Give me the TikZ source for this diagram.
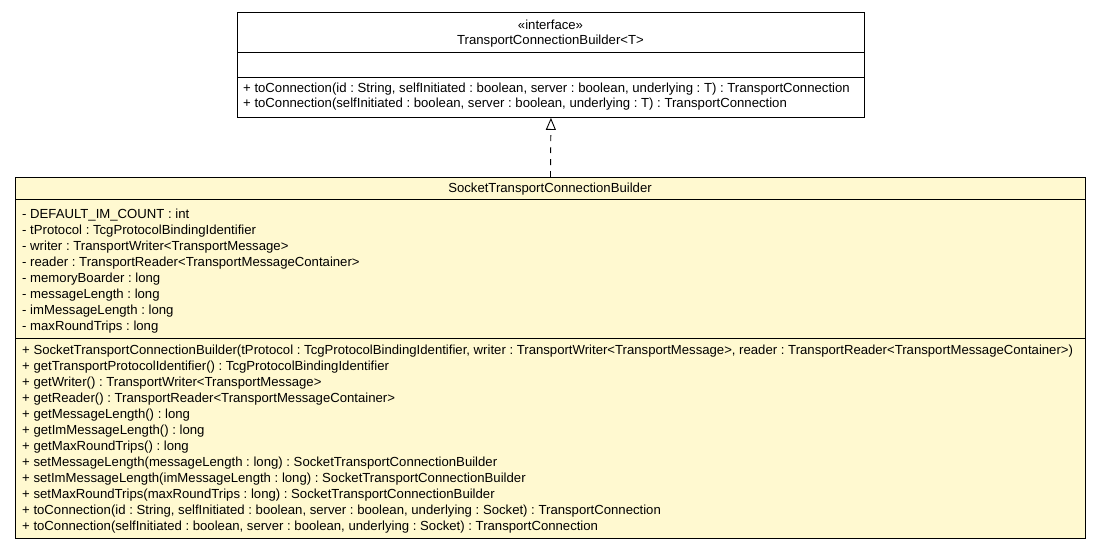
\documentclass[tikz,border=0pt]{standalone}
\usepackage{fontspec}
\setmainfont{Liberation Sans}
\usetikzlibrary{arrows.meta}
\definecolor{classfill}{HTML}{FFF9D0}
\frenchspacing
\begin{document}
\begin{tikzpicture}[x=1pt,y=-1pt,
  umlbox/.style={draw=black, line width=0.9pt, rectangle, inner sep=0pt, anchor=north west},
  sepline/.style={draw=black, line width=0.9pt},
  txt/.style={font=\fontsize{13.15}{16}\selectfont\frenchspacing, inner sep=0pt, anchor=base west},
  ctxt/.style={font=\fontsize{13.15}{16}\selectfont\frenchspacing, inner sep=0pt, anchor=base},
  realize/.style={draw=black, line width=0.9pt, dash pattern=on 6pt off 6pt, -{Triangle[open, length=12pt, width=10pt, line width=0.9pt]}}
]
\useasboundingbox (0,0) rectangle (1101,549);
% interface box
\node[umlbox, fill=white, minimum width=627pt, minimum height=105pt] (iface) at (237,12) {};
\draw[sepline] (237,52) -- (864,52);
\draw[sepline] (237,77) -- (864,77);
\node[ctxt] (st) at (550.5,29.5) {«interface»};
\node[ctxt] (it) at (550.5,44.5) {TransportConnectionBuilder<T>};
\node[txt] (im1) at (243,92.5) {+ toConnection(id : String, selfInitiated : boolean, server : boolean, underlying : T) : TransportConnection};
\node[txt] (im2) at (243,107.5) {+ toConnection(selfInitiated : boolean, server : boolean, underlying : T) : TransportConnection};
% implementation box
\node[umlbox, fill=classfill, minimum width=1070pt, minimum height=361pt] (impl) at (15,177) {};
\draw[sepline] (15,199) -- (1085,199);
\draw[sepline] (15,338) -- (1085,338);
\node[ctxt] (ct) at (550,192.5) {SocketTransportConnectionBuilder};
\foreach \t [count=\i from 0] in {%
  - DEFAULT\_IM\_COUNT : int,
  - tProtocol : TcgProtocolBindingIdentifier,
  - writer : TransportWriter<TransportMessage>,
  - reader : TransportReader<TransportMessageContainer>,
  - memoryBoarder : long,
  - messageLength : long,
  - imMessageLength : long,
  - maxRoundTrips : long}
  \node[txt] (a\i) at (22,218.5+16*\i) {\t};
\foreach \t [count=\i from 0] in {%
  {+ SocketTransportConnectionBuilder(tProtocol : TcgProtocolBindingIdentifier, writer : TransportWriter<TransportMessage>, reader : TransportReader<TransportMessageContainer>)},
  + getTransportProtocolIdentifier() : TcgProtocolBindingIdentifier,
  + getWriter() : TransportWriter<TransportMessage>,
  + getReader() : TransportReader<TransportMessageContainer>,
  + getMessageLength() : long,
  + getImMessageLength() : long,
  + getMaxRoundTrips() : long,
  + setMessageLength(messageLength : long) : SocketTransportConnectionBuilder,
  + setImMessageLength(imMessageLength : long) : SocketTransportConnectionBuilder,
  + setMaxRoundTrips(maxRoundTrips : long) : SocketTransportConnectionBuilder,
  {+ toConnection(id : String, selfInitiated : boolean, server : boolean, underlying : Socket) : TransportConnection},
  {+ toConnection(selfInitiated : boolean, server : boolean, underlying : Socket) : TransportConnection}}
  \node[txt] (m\i) at (22,354.5+16*\i) {\t};
% realization
\draw[realize] (impl.north) -- (iface.south);
\end{tikzpicture}
\end{document}
